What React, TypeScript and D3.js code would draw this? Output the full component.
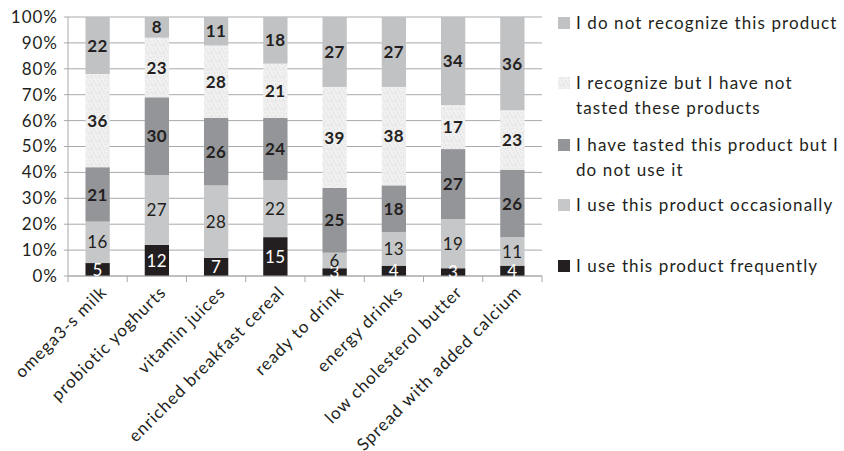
import React from "react";
import * as d3 from "d3";

// categories on the x axis
const products = [
  "omega3-s milk",
  "probiotic yoghurts",
  "vitamin juices",
  "enriched breakfast cereal",
  "ready to drink",
  "energy drinks",
  "low cholesterol butter",
  "Spread with added calcium",
];

// series, stacked bottom to top
const frequently = [5, 12, 7, 15, 3, 4, 3, 4];
const occasionally = [16, 27, 28, 22, 6, 13, 19, 11];
const tastedNotUse = [21, 30, 26, 24, 25, 18, 27, 26];
const recognizedNotTasted = [36, 23, 28, 21, 39, 38, 17, 23];
const notRecognized = [22, 8, 11, 18, 27, 27, 34, 36];

const seriesNames = [
  "I use this product frequently",
  "I use this product occasionally",
  "I have tasted this product but I do not use it",
  "I recognize but I have not tasted these products",
  "I do not recognize this product",
];

// legend lines, top to bottom (wrapped like the original)
const legendLines = [
  ["I do not recognize this product"],
  ["I recognize but I have not", "tasted these products"],
  ["I have tasted this product but I", "do not use it"],
  ["I use this product occasionally"],
  ["I use this product frequently"],
];

const yTicks = [0, 10, 20, 30, 40, 50, 60, 70, 80, 90, 100];

const width = 844;
const height = 451;
const margin = { top: 17, left: 68, right: 302, bottom: 175 };
const font = "Lato, 'Open Sans', sans-serif";
const textColor = "#231f20";

const fills = ["#231f20", "#c6c7c8", "#939598", "url(#speckle)", "#c1c2c4"];
const labelColors = ["#ffffff", textColor, textColor, textColor, textColor];
const labelWeights = [400, 400, 700, 700, 700];

const App = () => {
  const plotRight = width - margin.right;
  const plotBottom = height - margin.bottom;

  const x = d3
    .scaleBand<string>()
    .domain(products)
    .range([margin.left, plotRight])
    .paddingInner(0.59)
    .paddingOuter(0.295);

  const y = d3.scaleLinear().domain([0, 100]).range([plotBottom, margin.top]);

  const table = products.map((p, i) => ({
    product: p,
    s0: frequently[i],
    s1: occasionally[i],
    s2: tastedNotUse[i],
    s3: recognizedNotTasted[i],
    s4: notRecognized[i],
  }));
  const keys = ["s0", "s1", "s2", "s3", "s4"];
  const stacked = d3.stack<any>().keys(keys)(table);

  const step = x.step();
  const boundaries = d3.range(products.length + 1).map((i) => margin.left + i * step);

  // legend rows: y of the first line of each item
  const legendY = [23, 83, 145, 205, 266];

  return (
    <svg
      width={width}
      height={height}
      style={{ position: "absolute", left: 0, top: 0, background: "#fff" }}
      fontFamily={font}
    >
      <defs>
        <pattern id="speckle" width="8" height="8" patternUnits="userSpaceOnUse">
          <rect width="8" height="8" fill="#efefef" />
          <rect x="1" y="0" width="1" height="1" fill="#dedede" />
          <rect x="5" y="1" width="2" height="1" fill="#e3e3e3" />
          <rect x="3" y="3" width="1" height="2" fill="#dcdcdc" />
          <rect x="7" y="4" width="1" height="1" fill="#e1e1e1" />
          <rect x="0" y="5" width="2" height="1" fill="#e5e5e5" />
          <rect x="4" y="6" width="1" height="1" fill="#dfdfdf" />
          <rect x="6" y="7" width="1" height="1" fill="#f8f8f8" />
          <rect x="2" y="2" width="1" height="1" fill="#f9f9f9" />
        </pattern>
      </defs>

      {/* gridlines */}
      {yTicks.map((t) => (
        <line
          key={"g" + t}
          x1={margin.left - 4}
          x2={plotRight}
          y1={y(t)}
          y2={y(t)}
          stroke="#a7a9ac"
          strokeWidth={1}
        />
      ))}
      {/* y axis */}
      <line x1={margin.left} x2={margin.left} y1={margin.top} y2={plotBottom} stroke="#a7a9ac" />
      {yTicks.map((t) => (
        <text
          key={"yl" + t}
          x={margin.left - 10}
          y={y(t)}
          dy="0.35em"
          textAnchor="end"
          fontSize={17}
          letterSpacing={1}
          fill={textColor}
        >
          {t + "%"}
        </text>
      ))}

      {/* bars */}
      {stacked.map((layer, si) => (
        <g key={"s" + si}>
          {layer.map((d, i) => (
            <rect
              key={i}
              x={x(products[i])}
              width={x.bandwidth()}
              y={y(d[1])}
              height={y(d[0]) - y(d[1])}
              fill={fills[si]}
            />
          ))}
        </g>
      ))}

      {/* x axis */}
      <line x1={margin.left} x2={plotRight} y1={plotBottom} y2={plotBottom} stroke="#a7a9ac" />
      {boundaries.map((bx, i) => (
        <line key={"xt" + i} x1={bx} x2={bx} y1={plotBottom} y2={plotBottom + 6} stroke="#a7a9ac" />
      ))}

      {/* value labels */}
      {stacked.map((layer, si) => (
        <g key={"l" + si}>
          {layer.map((d, i) => (
            <text
              key={i}
              x={(x(products[i]) as number) + x.bandwidth() / 2}
              y={y((d[0] + d[1]) / 2)}
              dy="0.36em"
              textAnchor="middle"
              fontSize={17}
              letterSpacing={0.5}
              fontWeight={labelWeights[si]}
              fill={labelColors[si]}
            >
              {d[1] - d[0]}
            </text>
          ))}
        </g>
      ))}

      {/* category labels */}
      {products.map((p) => {
        const cx = (x(p) as number) + x.bandwidth() / 2 + 6;
        const cy = plotBottom + 13;
        return (
          <text
            key={p}
            transform={`translate(${cx},${cy}) rotate(-45)`}
            textAnchor="end"
            dy="0.35em"
            fontSize={17}
            letterSpacing={1}
            fill={textColor}
          >
            {p}
          </text>
        );
      })}

      {/* legend */}
      {legendLines.map((lines, li) => {
        const si = seriesNames.length - 1 - li;
        return (
          <g key={"lg" + li}>
            <rect x={558} y={legendY[li] - 6} width={12} height={12} fill={fills[si]} />
            {lines.map((ln, k) => (
              <text
                key={k}
                x={576}
                y={legendY[li] + k * 25}
                dy="0.35em"
                fontSize={17}
                letterSpacing={1.1}
                fill={textColor}
              >
                {ln}
              </text>
            ))}
          </g>
        );
      })}
    </svg>
  );
};

export default App;
